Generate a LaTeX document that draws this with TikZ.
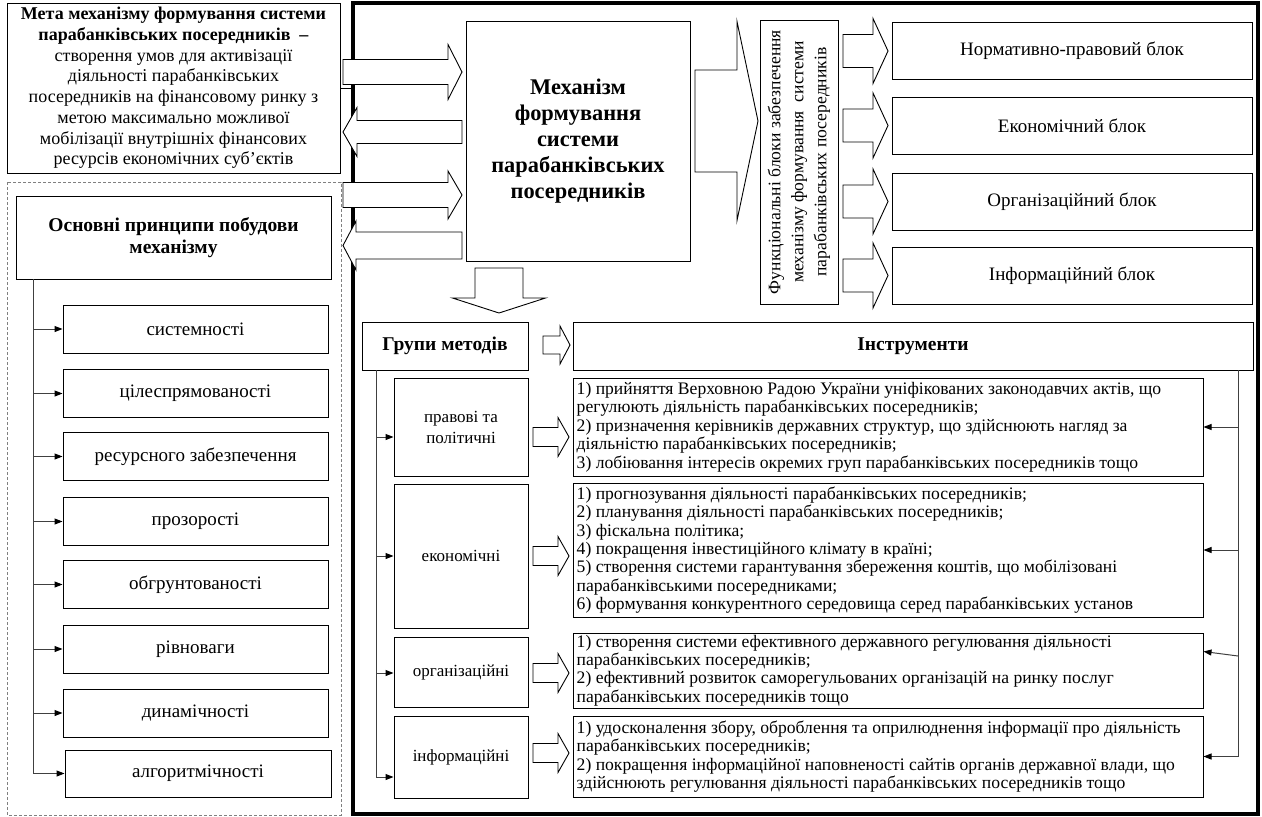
\documentclass[tikz,border=0pt]{standalone}
\usepackage{fontspec}
\setmainfont{Liberation Serif}
\usetikzlibrary{arrows.meta,calc}
% horizontal block arrow: x1 (tail) x2 (head base) x3 (tip) yc bodyhalf headhalf
\newcommand\blkH[6]{\draw[harrow] (#1,#4-#5) -- (#2,#4-#5) -- (#2,#4-#6) -- (#3,#4) -- (#2,#4+#6) -- (#2,#4+#5) -- (#1,#4+#5) -- cycle;}
% vertical block arrow: y1 (tail) y2 (head base) y3 (tip) xc bodyhalf headhalf
\newcommand\blkV[6]{\draw[harrow] (#4-#5,#1) -- (#4-#5,#2) -- (#4-#6,#2) -- (#4,#3) -- (#4+#6,#2) -- (#4+#5,#2) -- (#4+#5,#1) -- cycle;}
\begin{document}
\begin{tikzpicture}[x=1pt,y=-1pt,
  box/.style={draw=black, line width=1pt, fill=white, align=center, inner sep=2pt},
  harrow/.style={draw=black, line width=0.9pt, fill=white, line join=miter},
  conn/.style={draw=black!75, line width=1pt, -{Triangle[length=8pt,width=6pt,color=black]}},
  spine/.style={draw=black!75, line width=1pt},
  fgoal/.style={font=\fontsize{18}{20.7}\selectfont},
  fhead/.style={font=\fontsize{19.5}{22}\selectfont\bfseries},
  fprin/.style={font=\fontsize{19}{22}\selectfont},
  fmech/.style={font=\fontsize{22.4}{26}\selectfont\bfseries},
  ffunc/.style={font=\fontsize{17.6}{23}\selectfont},
  fmeth/.style={font=\fontsize{17}{21}\selectfont},
  itext/.style={font=\fontsize{17.6}{18.4}\selectfont, align=left, inner xsep=4pt, inner ysep=0pt, anchor=west}
]
\useasboundingbox (0,0) rectangle (1262,817);
\fill[white] (0,0) rectangle (1262,817);

% frames
\draw[line width=3.5pt] (353,3) rectangle (1258,814);
\draw[gray, line width=0.8pt, dash pattern=on 3pt off 2pt] (7,182) rectangle (341,815);

% goal
\node[box, fgoal, minimum width=333, minimum height=170] (goal) at (173.5,88)
 {\textbf{Мета механізму формування системи}\\
  \textbf{парабанківських посередників}\ \ \textbf{–}\\
  створення умов для активізації\\
  діяльності парабанківських\\
  посередників на фінансовому ринку з\\
  метою максимально можливої\\
  мобілізації внутрішніх фінансових\\
  ресурсів економічних суб’єктів};
\coordinate (gedge) at (353,88);
\draw[spine, draw=black] (goal.east) -- (gedge);

% principles
\node[box, fhead, minimum width=315, minimum height=83] (ph) at (173.5,237.5)
 {Основні принципи побудови\\механізму};
\foreach \i/\yy/\t in {1/329/системності, 2/393.5/цілеспрямованості,
   3/456.5/ресурсного забезпечення, 4/521.5/прозорості, 5/584.5/обгрунтованості,
   6/649/рівноваги, 7/713/динамічності}
  \node[box, fprin, minimum width=265, minimum height=48] (p\i) at (195.5,\yy) {\t};
\node[box, fprin, minimum width=266, minimum height=47] (p8) at (198,773.5) {алгоритмічності};
\coordinate (pl) at (33,279);
\draw[spine] (pl) -- (pl |- p8.west);
\foreach \i in {1,...,8} \draw[conn] (pl |- p\i.west) -- (p\i.west);

% arrows between goal/principles and mechanism
\blkH{343}{448}{462}{72}{12.5}{27.5}
\blkH{462}{357}{343}{132}{11.5}{24.5}
\blkH{343}{448}{462}{195}{12.5}{24}
\blkH{462}{356}{343}{245.5}{13.5}{24.5}

% mechanism
\node[box, fmech, minimum width=224, minimum height=240] (mech) at (578,141)
 {Механізм\\формування\\системи\\парабанківських\\посередників};

% big arrow to functional blocks
\blkH{695}{737}{758}{121}{51}{99.5}

% functional blocks
\node[box, ffunc, rotate=90, minimum width=284, minimum height=78] (func) at (799,162)
 {Функціональні блоки забезпечення\\механізму формування\ \ системи\\парабанківських посередників};
\foreach \i/\yy/\t in {1/51/Нормативно-правовий блок, 2/125.5/Економічний блок,
   3/201.5/Організаційний блок, 4/275.5/Інформаційний блок}
  {\node[box, fprin, minimum width=360, minimum height=57] (b\i) at (1072,\yy) {\t};
   \blkH{843}{873}{888}{\yy}{16.5}{32.5}}

% down arrow
\blkV{268}{298}{313}{499}{24}{46.5}

% groups of methods / instruments
\node[box, fhead, minimum width=166, minimum height=48] (grp) at (445,346) {Групи методів};
\node[box, fhead, minimum width=680, minimum height=48] (ins) at (913,346) {Інструменти};
\blkH{543}{560}{570}{345}{9}{19}

% methods
\node[box, fmeth, minimum width=134, minimum height=98] (m1) at (461,427) {правові та\\політичні};
\node[box, fmeth, minimum width=134, minimum height=144] (m2) at (461,556) {економічні};
\node[box, fmeth, minimum width=134, minimum height=70] (m3) at (461,672) {організаційні};
\node[box, fmeth, minimum width=134, minimum height=82] (m4) at (461,757) {інформаційні};

\coordinate (ml) at (376,370);
\coordinate (ma1) at (376,437);
\coordinate (ma2) at (376,556);
\coordinate (ma3) at (376,673);
\coordinate (ma4) at (376,777);
\draw[spine] (ml) -- (ma4);
\foreach \i in {1,...,4} \draw[conn] (ma\i) -- (ma\i -| m\i.west);

% instruments
\node[box, minimum width=630, minimum height=98] (i1) at (888,427) {};
\node[box, minimum width=630, minimum height=134] (i2) at (888,550) {};
\node[box, minimum width=630, minimum height=75] (i3) at (888,670.5) {};
\node[box, minimum width=630, minimum height=81] (i4) at (888,756.5) {};

\node[itext] (t1) at (i1.west)
 {1) прийняття Верховною Радою України уніфікованих законодавчих актів, що\\
  регулюють діяльність парабанківських посередників;\\
  2) призначення керівників державних структур, що здійснюють нагляд за\\
  діяльністю парабанківських посередників;\\
  3) лобіювання інтересів окремих груп парабанківських посередників тощо};
\node[itext] (t2) at (i2.west)
 {1) прогнозування діяльності парабанківських посередників;\\
  2) планування діяльності парабанківських посередників;\\
  3) фіскальна політика;\\
  4) покращення інвестиційного клімату в країні;\\
  5) створення системи гарантування збереження коштів, що мобілізовані\\
  парабанківськими посередниками;\\
  6) формування конкурентного середовища серед парабанківських установ};
\node[itext] (t3) at (i3.west)
 {1) створення системи ефективного державного регулювання діяльності\\
  парабанківських посередників;\\
  2) ефективний розвиток саморегульованих організацій на ринку послуг\\
  парабанківських посередників тощо};
\node[itext] (t4) at (i4.west)
 {1) удосконалення збору, оброблення та оприлюднення інформації про діяльність\\
  парабанківських посередників;\\
  2) покращення інформаційної наповненості сайтів органів державної влади, що\\
  здійснюють регулювання діяльності парабанківських посередників тощо};

% hollow arrows method -> instrument
\blkH{533}{558}{569}{437}{9.5}{19.5}
\blkH{533}{558}{569}{556}{9.5}{19.5}
\blkH{533}{558}{569}{673}{9.5}{19.5}
\blkH{533}{558}{569}{753}{9.5}{19.5}

% right spine
\coordinate (rl) at (1238,370);
\coordinate (ra1) at (rl |- i1.east);
\coordinate (ra2) at (rl |- i2.east);
\coordinate (ra3) at (1238,656);
\coordinate (ra4) at (rl |- i4.east);
\draw[spine] (rl) -- (ra4);
\draw[conn] (ra1) -- (i1.east);
\draw[conn] (ra2) -- (i2.east);
\draw[conn] (ra3) -- ($(i3.north east)!0.25!(i3.south east)$);
\draw[conn] (ra4) -- (i4.east);
\end{tikzpicture}
\end{document}
